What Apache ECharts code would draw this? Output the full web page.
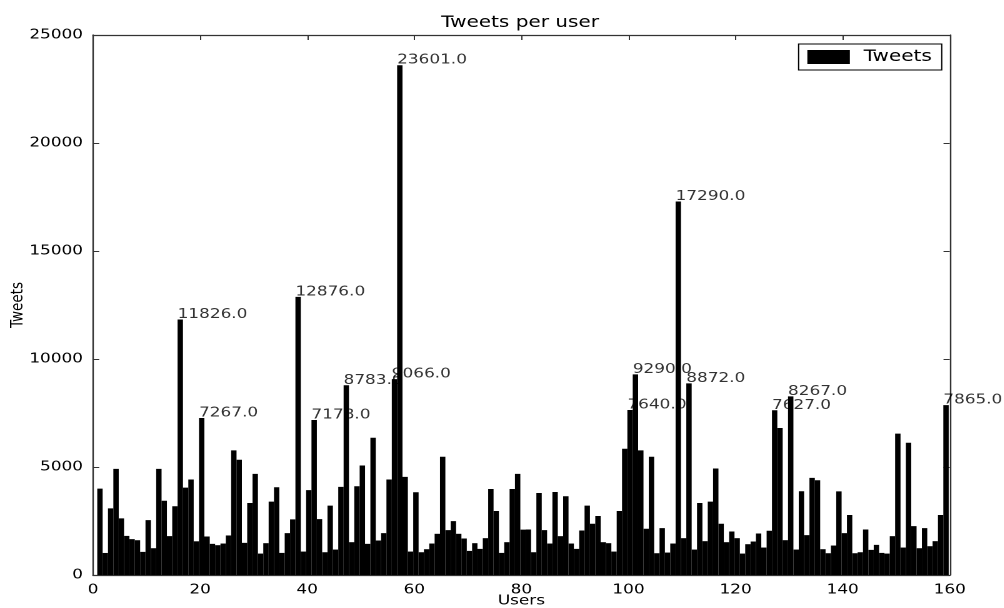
<!DOCTYPE html>
<html>
<head>
<meta charset="utf-8">
<script src="https://cdn.jsdelivr.net/npm/echarts@6/dist/echarts.min.js"></script>
<style>
html, body { margin: 0; padding: 0; background: #fff; overflow: hidden; width: 1004px; height: 608px; }
#chart { width: 803.2px; height: 608px; transform: scaleX(1.25); transform-origin: 0 0; }
</style>
</head>
<body>
<div id="chart"></div>
<script>
// ---- data ----
const titleText = 'Tweets per user';
const seriesName = 'Tweets';
const xName = 'Users';
const yName = 'Tweets';
const xMin = 0, xMax = 160, xStep = 20;
const yMin = 0, yMax = 25000, yStep = 5000;
const labelThreshold = 7000;

const tweets = [
  4000, 1020, 3085, 4915, 2620, 1810, 1660, 1610, 1070, 2540,
  1240, 4915, 3440, 1800, 3180, 11826, 4047, 4420, 1560, 7267,
  1783, 1442, 1380, 1457, 1830, 5767, 5333, 1488, 3333, 4682,
  992, 1473, 3395, 4062, 1023, 1938, 2573, 12876, 1085, 3930,
  7178, 2589, 1054, 3209, 1178, 4078, 8783, 1519, 4108, 5070,
  1442, 6357, 1597, 1938, 4419, 9066, 23601, 4543, 1085, 3830,
  1054, 1194, 1457, 1907, 5473, 2078, 2496, 1907, 1690, 1116,
  1473, 1209, 1705, 3984, 2961, 1023, 1519, 3984, 4682, 2100,
  2108, 1054, 3798, 2078, 1457, 3845, 1798, 3643, 1457, 1209,
  2062, 3209, 2372, 2729, 1519, 1473, 1085, 2961, 5845, 7640,
  9290, 5767, 2140, 5473, 1008, 2170, 1039, 1457, 17290, 1705,
  8872, 1178, 3333, 1566, 3395, 4930, 2372, 1519, 2016, 1705,
  992, 1426, 1550, 1922, 1271, 2047, 7627, 6806, 1612, 8267,
  1178, 3876, 1845, 4496, 4388, 1194, 1008, 1364, 3870, 1938,
  2775, 1008, 1054, 2108, 1163, 1395, 1023, 992, 1798, 6543,
  1271, 6124, 2264, 1240, 2170, 1333, 1566, 2775, 7865
];
// users are numbered 1..N
const users = tweets.map((_, i) => i + 1);

// ---- chart ----
const FONT = 'DejaVu Sans';
const AX = '#333';
const BAR_LEFT = -0.2;   // bar left edge relative to user index
const BAR_W = 1;         // bar width in data units

const chart = echarts.init(document.getElementById('chart'), null, { renderer: 'canvas', devicePixelRatio: 2 });

const axisCommonX = {
  type: 'value', min: xMin, max: xMax, interval: xStep,
  axisLine: { show: true, onZero: false, lineStyle: { color: AX, width: 1.2 } },
  axisTick: { show: true, inside: true, length: 5, lineStyle: { color: AX, width: 1 } },
  splitLine: { show: false }
};
const axisCommonY = {
  type: 'value', min: yMin, max: yMax, interval: yStep,
  axisLine: { show: true, onZero: false, lineStyle: { color: AX, width: 1.2 } },
  axisTick: { show: true, inside: true, length: 5, lineStyle: { color: AX, width: 1 } },
  splitLine: { show: false }
};

const labelData = users
  .map((u, i) => [u + BAR_LEFT, tweets[i]])
  .filter(d => d[1] > labelThreshold);

chart.setOption({
  animation: false,
  backgroundColor: '#fff',
  title: {
    text: titleText, left: 353, top: 15, padding: 0,
    textStyle: { fontFamily: FONT, fontSize: 16, fontWeight: 'normal', color: '#000' }
  },
  legend: {
    data: [{ name: seriesName, icon: 'rect' }],
    right: 49.6, top: 44,
    itemWidth: 34, itemHeight: 14,
    padding: [5, 8, 5, 7],
    borderColor: '#000', borderWidth: 1, backgroundColor: '#fff',
    borderRadius: 0,
    textStyle: { fontFamily: FONT, fontSize: 16, color: '#000', padding: [0, 0, 0, 6] }
  },
  grid: { left: 74.4, right: 43.2, top: 35, bottom: 33, containLabel: false, outerBoundsMode: 'none' },
  xAxis: [
    Object.assign({}, axisCommonX, {
      position: 'bottom',
      axisLabel: { color: '#000', fontFamily: FONT, fontSize: 13.5, margin: 8, formatter: v => String(v) },
      name: xName, nameLocation: 'middle', nameGap: 19, nameMoveOverlap: false,
      nameTextStyle: { fontFamily: FONT, fontSize: 13.5, color: '#000' }
    }),
    Object.assign({}, axisCommonX, { position: 'top', axisLabel: { show: false } })
  ],
  yAxis: [
    Object.assign({}, axisCommonY, {
      position: 'left',
      axisLabel: { color: '#000', fontFamily: FONT, fontSize: 13.5, margin: 8, formatter: v => String(v) },
      name: yName, nameLocation: 'middle', nameGap: 53, nameRotate: 90, nameMoveOverlap: false,
      nameTextStyle: { fontFamily: FONT, fontSize: 13.5, color: '#000' }
    }),
    Object.assign({}, axisCommonY, { position: 'right', axisLabel: { show: false } })
  ],
  series: [
    {
      name: seriesName, type: 'bar', xAxisIndex: 0, yAxisIndex: 0,
      data: users.map((u, i) => [u + BAR_LEFT + BAR_W / 2, tweets[i]]),
      barWidth: 4.3,
      itemStyle: { color: '#000' },
      z: 3
    },
    {
      name: 'labels', type: 'scatter', xAxisIndex: 0, yAxisIndex: 0,
      data: labelData, symbolSize: 0, silent: true, z: 2,
      label: {
        show: true, position: [0, 0], align: 'left', verticalAlign: 'bottom',
        offset: [0, 2],
        fontFamily: FONT, fontSize: 13.5, color: '#000',
        formatter: p => p.value[1].toFixed(1)
      }
    }
  ]
});
</script>
</body>
</html>
